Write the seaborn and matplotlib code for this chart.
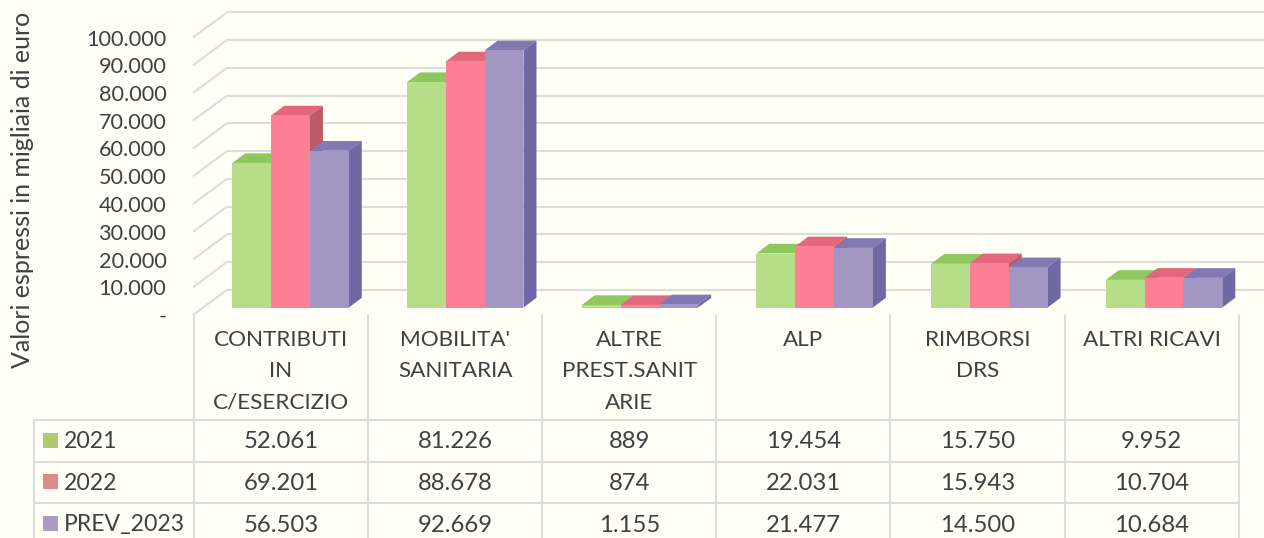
import matplotlib
matplotlib.use("Agg")
import matplotlib.pyplot as plt
import pandas as pd
import seaborn as sns
from matplotlib.lines import Line2D
from matplotlib.patches import Polygon, Rectangle
from matplotlib.transforms import Affine2D

categories = ["CONTRIBUTI\nIN\nC/ESERCIZIO", "MOBILITA'\nSANITARIA", "ALTRE\nPREST.SANIT\nARIE",
              "ALP", "RIMBORSI\nDRS", "ALTRI RICAVI"]
series_names = ["2021", "2022", "PREV_2023"]
values_2021 = [52061, 81226, 889, 19454, 15750, 9952]
values_2022 = [69201, 88678, 874, 22031, 15943, 10704]
values_2023 = [56503, 92669, 1155, 21477, 14500, 10684]
y_ticks = [0, 10000, 20000, 30000, 40000, 50000, 60000, 70000, 80000, 90000, 100000]
y_label = "Valori espressi in migliaia di euro"

BG = "#FFFFF5"
TXT = "#404040"
GRID = "#DCDCDB"
front = ["#B6DD88", "#FC7F93", "#A296C3"]
top = ["#8FC75F", "#E3687B", "#8278B2"]
side = ["#7FB050", "#BD5A68", "#7068A5"]
swatch = ["#AECB72", "#DC8A8A", "#B09AC4"]

W, H = 1264, 538
CELL = 174.7
TABLE_CELL = 174.1
TABLE_L = 194.0
BAR_L = 203.2
BASE_Y = 307.5
SCALE_H = 277.5

sns.set_theme(style="white")
plt.rcParams["font.family"] = ["Lato", "DejaVu Sans"]

fig = plt.figure(figsize=(W / 100, H / 100), dpi=100, facecolor=BG)
ax = fig.add_axes([BAR_L / W, (H - BASE_Y) / H, 6 * CELL / W, SCALE_H / H], facecolor="none")
px = Affine2D().scale(1, -1).translate(0, H)

df = pd.DataFrame({
    "cat": categories * 3,
    "serie": sum([[s] * len(categories) for s in series_names], []),
    "val": values_2021 + values_2022 + values_2023,
})
sns.barplot(data=df, x="cat", y="val", hue="serie", order=categories, hue_order=series_names,
            palette=front, saturation=1, width=2 / 3, gap=0, legend=False, linewidth=0, ax=ax)
ax.set_xlim(-0.5, 5.5)
ax.set_ylim(0, 100000)
ax.set_xlabel("")
sns.despine(ax=ax, left=True, bottom=True)

per_x = CELL
per_y = SCALE_H / 100000
depth_x, depth_y = 13 / per_x, 9.7 / per_y

# 3D faces of each bar, derived from the bars seaborn has drawn
for i, cont in enumerate(ax.containers):
    for bar in cont:
        x0, w, h = bar.get_x(), bar.get_width(), bar.get_height()
        bar.set_zorder(5 + 2 * i)
        ax.add_patch(Polygon([(x0, h), (x0 + depth_x, h + depth_y), (x0 + w + depth_x, h + depth_y), (x0 + w, h)],
                             closed=True, fc=top[i], ec="none", zorder=4 + 2 * i, clip_on=False))
        ax.add_patch(Polygon([(x0 + w, 0), (x0 + w + depth_x, depth_y), (x0 + w + depth_x, h + depth_y), (x0 + w, h)],
                             closed=True, fc=side[i], ec="none", zorder=4 + 2 * i, clip_on=False))

# wall grid: back lines and diagonal side lines
wall_dx = 23.8 / per_x
wall_dy = 17.7 / per_y
front_dx = -10.2 / per_x
front_dy = -7.5 / per_y
for t in y_ticks:
    ax.plot([-0.5 + front_dx, -0.5 + wall_dx], [t + front_dy, t + wall_dy], color=GRID, lw=1.5, zorder=1,
            clip_on=False, solid_capstyle="butt")
    ax.plot([-0.5 + wall_dx, 5.5 + wall_dx], [t + wall_dy, t + wall_dy], color=GRID, lw=1.5, zorder=1,
            clip_on=False, solid_capstyle="butt")

# value axis labels
ax.set_yticks(y_ticks)
ax.set_yticklabels(["-" if t == 0 else f"{t:,}".replace(",", ".") for t in y_ticks],
                   fontsize=15.6, color=TXT)
ax.tick_params(axis="y", length=0, pad=26.5)
for lab in ax.get_yticklabels():
    lab.set_transform(lab.get_transform() + Affine2D().translate(0, -7.5))
ax.set_ylabel(y_label, fontsize=18, color=TXT)
ax.yaxis.set_label_coords((34 - BAR_L) / (6 * CELL), (BASE_Y - 190) / SCALE_H)

# category labels, centred on the table cells
ax.set_xticks(range(len(categories)))
ax.set_xticklabels(categories, fontsize=16.2, color=TXT, linespacing=1.72, va="top", ha="center")
ax.tick_params(axis="x", length=0, pad=16)
for c, lab in enumerate(ax.get_xticklabels()):
    shift = (TABLE_L + (c + 0.5) * TABLE_CELL) - (BAR_L + (c + 0.5) * CELL)
    lab.set_transform(lab.get_transform() + Affine2D().translate(shift, 0))

# data table
LEFT = 33.5
ROW_TOP = 420.0
rows_y = [ROW_TOP, 461.5, 503.0]
row_centers = [440.0, 481.0, 523.0]
edges = [TABLE_L + i * TABLE_CELL for i in range(7)]
for y in rows_y:
    fig.add_artist(Line2D([LEFT, edges[-1]], [y, y], transform=px, color=GRID, lw=1.5))
fig.add_artist(Line2D([LEFT, LEFT], [ROW_TOP, H], transform=px, color=GRID, lw=1.5))
for x in edges:
    fig.add_artist(Line2D([x, x], [315, H], transform=px, color=GRID, lw=1.5))

for r, (name, vals) in enumerate(zip(series_names, [values_2021, values_2022, values_2023])):
    cy = row_centers[r]
    fig.add_artist(Rectangle((43, cy - 7), 15, 15, transform=px, fc=swatch[r], ec="none"))
    fig.text(64, cy, name, transform=px, fontsize=16.6, color=TXT, va="center_baseline", ha="left")
    for c, v in enumerate(vals):
        fig.text(TABLE_L + (c + 0.5) * TABLE_CELL, cy, f"{v:,}".replace(",", "."), transform=px,
                 fontsize=17.2, color=TXT, va="center_baseline", ha="center")

fig.savefig("out.png", dpi=100, facecolor=BG)
